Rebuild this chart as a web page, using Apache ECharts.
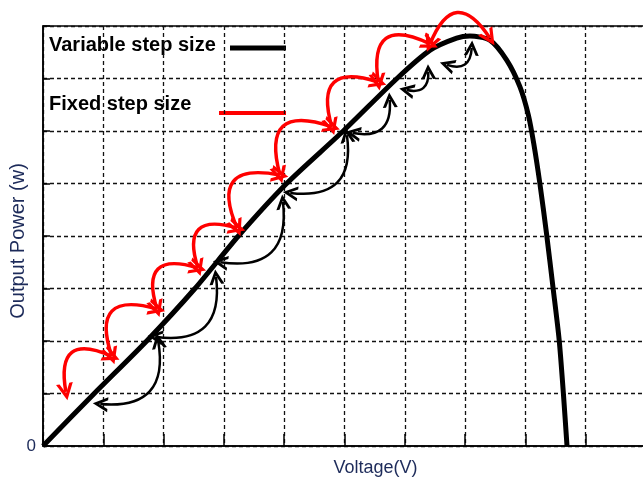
<!DOCTYPE html>
<html lang="en">
  <head>
    <meta charset="UTF-8" />
    <meta name="viewport" content="width=device-width, initial-scale=1.0" />
    <title>P-V curve, variable vs fixed step size</title>
    <script src="https://cdn.jsdelivr.net/npm/echarts@6/dist/echarts.min.js"></script>
    <style>
      html,
      body {
        margin: 0;
        padding: 0;
        background: #fff;
      }
      #main {
        width: 643px;
        height: 479px;
      }
    </style>
  </head>
  <body>
    <div id="main"></div>

    <script>
      // P-V curve in grid units (x: columns, y: rows)
      const voltage = [0, 0.85, 1.72, 2.52, 3.24, 4.04, 4.98, 5.87, 6.42, 6.86, 7.08,
        7.41, 7.69, 7.91, 8.05, 8.14, 8.24, 8.35, 8.46, 8.56, 8.63, 8.69];
      const power = [0, 1, 2, 3, 4, 5, 6, 7, 7.54, 7.77, 7.81,
        7.73, 7.35, 6.84, 6.3, 5.75, 5, 4.05, 3, 2.02, 1, 0];

      // fixed step size: hops between these points
      const fixedU = [0.38, 1.14, 1.89, 2.57, 3.22, 3.93, 4.79, 5.56, 6.42, 7.41];
      const fixedV = [1.03, 1.71, 2.61, 3.39, 4.15, 5.16, 6.08, 6.93, 7.66, 7.77];

      // variable step size: each arrow from start to end
      const varStartU = [0.95, 1.86, 2.94, 4.1, 5.14, 6.03, 6.7];
      const varStartV = [0.8, 2.08, 3.5, 4.82, 5.96, 6.78, 7.26];
      const varEndU = [1.91, 2.87, 3.98, 5.04, 5.75, 6.39, 7.11];
      const varEndV = [2.0, 3.22, 4.65, 5.92, 6.59, 7.13, 7.58];

      const font = "'Liberation Sans', Arial, sans-serif";
      const navy = '#1d2b5a';
      // open arrow head
      const head = 'path://M12,0L21,12L17.2,12L12,5L6.8,12L3,12Z';

      const curve = voltage.map((u, i) => [u, power[i]]);

      const fixedHops = [];
      for (let i = 0; i < fixedU.length - 1; i++) {
        fixedHops.push({
          coords: [
            [fixedU[i], fixedV[i]],
            [fixedU[i + 1], fixedV[i + 1]],
          ],
        });
      }

      const varArrows = varStartU.map((u, i) => ({
        coords: [
          [u, varStartV[i]],
          [varEndU[i], varEndV[i]],
        ],
      }));

      const options = {
        animation: false,
        backgroundColor: '#fff',
        grid: {
          left: 43,
          top: 26,
          width: 603,
          height: 420,
          outerBoundsMode: 'none',
          containLabel: false,
          show: true,
          borderColor: '#000',
          borderWidth: 1.5,
        },
        xAxis: {
          type: 'value',
          min: 0,
          max: 10,
          interval: 1,
          name: 'Voltage(V)',
          nameLocation: 'middle',
          nameGap: 13,
          nameMoveOverlap: false,
          nameTextStyle: {
            fontFamily: font,
            fontSize: 18,
            color: navy,
            padding: [0, 0, 0, 62],
          },
          axisLine: { lineStyle: { color: '#000', width: 1.5 } },
          axisTick: { inside: true, length: 12, lineStyle: { color: '#000', width: 1.5 } },
          axisLabel: { show: false },
          splitLine: {
            lineStyle: { color: '#111', type: [4, 3], width: 1.3 },
          },
        },
        yAxis: {
          type: 'value',
          min: 0,
          max: 8,
          interval: 1,
          name: 'Output Power (w)',
          nameLocation: 'middle',
          nameGap: 15,
          nameMoveOverlap: false,
          nameTextStyle: {
            fontFamily: font,
            fontSize: 20,
            color: navy,
            padding: [0, 10, 0, 0],
          },
          axisLine: { lineStyle: { color: '#000', width: 1.5 } },
          axisTick: { inside: true, length: 7, lineStyle: { color: '#000', width: 1.5 } },
          axisLabel: {
            margin: 7,
            fontFamily: font,
            fontSize: 17,
            color: navy,
            formatter: (v) => (v === 0 ? '0' : ''),
          },
          splitLine: {
            lineStyle: { color: '#111', type: [4, 3], width: 1.3 },
          },
        },
        graphic: [
          {
            type: 'text',
            x: 49,
            y: 45,
            style: {
              text: 'Variable step size',
              font: 'bold 20px ' + font,
              fill: '#000',
              verticalAlign: 'middle',
            },
          },
          {
            type: 'line',
            shape: { x1: 230, y1: 48, x2: 286, y2: 48 },
            style: { stroke: '#000', lineWidth: 5 },
          },
          {
            type: 'text',
            x: 49,
            y: 104,
            style: {
              text: 'Fixed step size',
              font: 'bold 20px ' + font,
              fill: '#000',
              verticalAlign: 'middle',
            },
          },
          {
            type: 'line',
            shape: { x1: 219, y1: 113, x2: 286, y2: 113 },
            style: { stroke: '#ff0000', lineWidth: 4 },
          },
        ],
        series: [
          {
            type: 'line',
            data: curve,
            smooth: 0.25,
            showSymbol: false,
            lineStyle: { color: '#000', width: 5 },
            z: 3,
          },
          {
            type: 'lines',
            coordinateSystem: 'cartesian2d',
            clip: false,
            data: fixedHops,
            symbol: [head, head],
            symbolSize: 17,
            lineStyle: { color: '#ff0000', width: 3.5, curveness: 0.95, opacity: 1 },
            z: 4,
          },
          {
            type: 'lines',
            coordinateSystem: 'cartesian2d',
            clip: false,
            data: varArrows,
            symbol: [head, head],
            symbolSize: 15,
            lineStyle: { color: '#000', width: 2.5, curveness: -0.65, opacity: 1 },
            z: 4,
          },
        ],
      };

      const myChart = echarts.init(document.getElementById('main'));
      myChart.setOption(options);
    </script>
  </body>
</html>
